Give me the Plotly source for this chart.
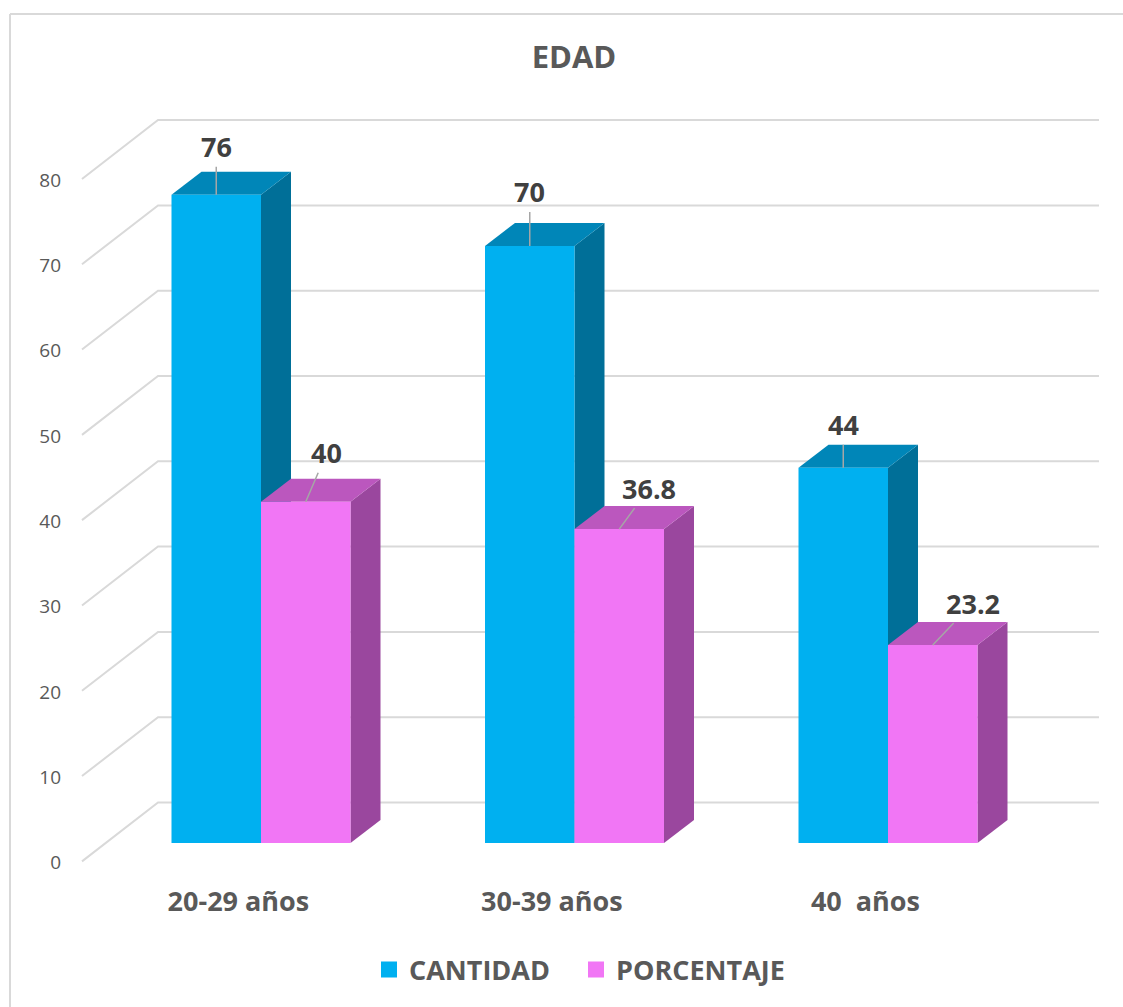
import plotly.graph_objects as go

# ---- data ----
categories = ["20-29 años", "30-39 años", "40\u00a0 años"]
cantidad = [76, 70, 44]
porcentaje = [40, 36.8, 23.2]
y_ticks = [0, 10, 20, 30, 40, 50, 60, 70, 80]
series_names = ["CANTIDAD", "PORCENTAJE"]

# ---- styling ----
FONT = "Open Sans"
TXT = "#595959"
LBL = "#404040"
GRID = "#D9D9D9"
CYAN = dict(front="#00B0F0", top="#0086B8", side="#006F98")
PINK = dict(front="#F176F5", top="#BB57BE", side="#9A479E")

W, H = 1123, 1007
ML, MR, MT, MB = 66, 0, 0, 132
PW, PH = W - ML - MR, H - MT - MB

# axis scaling: pixels per category step / per value unit
KX, KY = 313.5, 8.53
X0_PX, Y0_PX = 261, 843          # pixel of first category centre / value zero (bar front plane)
x_range = [(ML - X0_PX) / KX, (ML + PW - X0_PX) / KX]
y_range = [(Y0_PX - (MT + PH)) / KY, (Y0_PX - MT) / KY]

BAR_W = 0.2855                   # bar width in category units
DX, DY = 30 / KX, 23 / KY        # bar depth (oblique projection)
WALL_DY = 4.75                   # back wall offset (value units)
FLOOR_DY = -2.15                 # front edge of floor (value units)
WALL_X = -0.3285                 # back wall left edge
FRONT_X = -0.571                 # front edge left
RIGHT_X = 2.673                  # right end of gridlines

xs = list(range(len(categories)))


def px_to_paper(px, py):
    return (px - ML) / PW, (MT + PH - py) / PH


fig = go.Figure()

# front faces
fig.add_trace(go.Bar(x=xs, y=cantidad, width=BAR_W, offset=-BAR_W, marker_color=CYAN["front"],
                     marker_line_width=0, showlegend=False, hoverinfo="skip"))
fig.add_trace(go.Bar(x=xs, y=porcentaje, width=BAR_W, offset=0, marker_color=PINK["front"],
                     marker_line_width=0, showlegend=False, hoverinfo="skip"))

# legend entries (trailing spaces widen the gap between entries)
legend_labels = [series_names[0] + "\u00a0\u00a0\u00a0", series_names[1]]
for name, col in zip(legend_labels, [CYAN["front"], PINK["front"]]):
    fig.add_trace(go.Scatter(x=[None], y=[None], mode="markers", name=name,
                             marker=dict(symbol="square", size=17, color=col)))

shapes = []

# back wall / floor gridlines
for v in y_ticks:
    path = (f"M{FRONT_X},{v + FLOOR_DY} L{WALL_X},{v + WALL_DY} L{RIGHT_X},{v + WALL_DY}")
    shapes.append(dict(type="path", path=path, xref="x", yref="y", layer="below",
                       line=dict(color=GRID, width=2)))


def box_faces(x0, x1, v, colors):
    top = (f"M{x0},{v} L{x1},{v} L{x1 + DX},{v + DY} L{x0 + DX},{v + DY} Z")
    side = (f"M{x1},0 L{x1},{v} L{x1 + DX},{v + DY} L{x1 + DX},{DY} Z")
    return [
        dict(type="path", path=side, xref="x", yref="y", layer="below",
             fillcolor=colors["side"], line=dict(width=0)),
        dict(type="path", path=top, xref="x", yref="y", layer="below",
             fillcolor=colors["top"], line=dict(width=0)),
    ]


for i, x in enumerate(xs):
    shapes += box_faces(x - BAR_W, x, cantidad[i], CYAN)
    shapes += box_faces(x, x + BAR_W, porcentaje[i], PINK)

# chart frame (top and left edges)
fx0, fy0 = px_to_paper(10, 14)
fx1, fy1 = px_to_paper(W, H)
shapes.append(dict(type="line", xref="paper", yref="paper", x0=fx0, y0=fy0, x1=fx1, y1=fy0,
                   line=dict(color=GRID, width=2)))
shapes.append(dict(type="line", xref="paper", yref="paper", x0=fx0, y0=fy0, x1=fx0, y1=fy1,
                   line=dict(color=GRID, width=2)))

# data labels with leader lines
cant_offsets = [(0, -48), (0, -54), (0, -43)]
porc_offsets = [(21, -49), (30, -41), (40, -42)]
annotations = []
for i, x in enumerate(xs):
    for val, xc, (ax, ay) in [(cantidad[i], x - BAR_W / 2, cant_offsets[i]),
                              (porcentaje[i], x + BAR_W / 2, porc_offsets[i])]:
        annotations.append(dict(
            x=xc, y=val, xref="x", yref="y", text=f"{val:g}",
            showarrow=True, arrowhead=0, arrowwidth=1.5, arrowcolor="#A6A6A6",
            ax=ax, ay=ay, standoff=0, startstandoff=0,
            font=dict(family=FONT, size=27, color=LBL, weight="bold"),
        ))

lx, ly = px_to_paper(369, 970)

fig.update_layout(
    width=W, height=H,
    margin=dict(l=ML, r=MR, t=MT, b=MB),
    paper_bgcolor="white", plot_bgcolor="rgba(0,0,0,0)",
    barmode="overlay",
    title=dict(text="<b>EDAD</b>", x=574 / W, y=1 - 57 / H, xanchor="center", yanchor="middle",
               font=dict(family=FONT, size=31, color=TXT)),
    xaxis=dict(range=x_range, showgrid=False, zeroline=False, showline=False,
               tickmode="array", tickvals=[x - 0.072 for x in xs],
               ticktext=[f"<b>{c}</b>" for c in categories], ticks="",
               tickfont=dict(family=FONT, size=27, color=TXT), ticklabelstandoff=8),
    yaxis=dict(range=y_range, showgrid=False, zeroline=False, showline=False,
               tickmode="array", tickvals=[v - 2.3 for v in y_ticks],
               ticktext=[str(v) for v in y_ticks], ticks="",
               tickfont=dict(family=FONT, size=19, color=TXT), ticklabelstandoff=4),
    legend=dict(orientation="h", x=lx, y=ly, xanchor="left", yanchor="middle",
                font=dict(family=FONT, size=27, color=TXT, weight="bold"),
                itemclick=False, itemdoubleclick=False),
    shapes=shapes,
    annotations=annotations,
)

fig.write_html("out.html")
